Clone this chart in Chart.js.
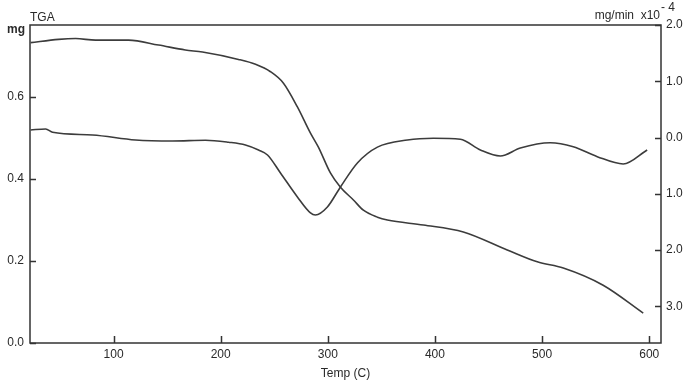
<!DOCTYPE html>
<html>
<head>
<meta charset="utf-8">
<script src="https://cdn.jsdelivr.net/npm/chart.js@4"></script>
<style>
  html, body { margin: 0; padding: 0; background: #fff; }
  #wrap { width: 694px; height: 381px; }
</style>
</head>
<body>
<div id="wrap"><canvas id="myChart" width="694" height="381"></canvas></div>
<script>
// weight curve (TGA, left axis, mg)
var tgaTemp = [22.6, 48.7, 64.6, 83.2, 114, 142, 167, 183, 216.6, 232.5, 246.5, 258.6, 271.6, 283.8, 291.2, 302.4, 311.8, 323.9, 333.2, 346.3, 355.6, 389.2, 426.5, 467.5, 495.5, 519.8, 557, 594.4];
var tgaMass = [0.733, 0.741, 0.743, 0.739, 0.739, 0.727, 0.715, 0.710, 0.692, 0.680, 0.662, 0.634, 0.576, 0.512, 0.478, 0.415, 0.380, 0.349, 0.324, 0.307, 0.300, 0.288, 0.271, 0.227, 0.198, 0.183, 0.141, 0.073];

// derivative curve (right axis, mg/min x10^-4)
var dtgTemp = [22.6, 36.6, 43.1, 80.4, 120.5, 155, 185.8, 207.3, 223.1, 235.3, 243.7, 255.8, 271.6, 283.8, 288.4, 299.6, 311.8, 327.6, 346.3, 374.3, 398.5, 423.7, 442.4, 461, 479.7, 507.6, 529.1, 551.5, 575.7, 598.1];
var dtgRate = [0.135, 0.153, 0.094, 0.046, -0.043, -0.060, -0.048, -0.083, -0.131, -0.220, -0.309, -0.629, -1.055, -1.339, -1.375, -1.233, -0.877, -0.451, -0.170, -0.043, -0.012, -0.030, -0.220, -0.327, -0.185, -0.091, -0.162, -0.339, -0.469, -0.220];

var xTicks = [100, 200, 300, 400, 500, 600];
var leftTicks = [0.0, 0.2, 0.4, 0.6];
var rightTicks = [2, 1, 0, -1, -2, -3];

function pts(xs, ys) {
    return xs.map(function (x, i) { return { x: x, y: ys[i] }; });
}

var lineColor = '#3c3c3c';
var textColor = '#2a2a2a';
var fam = 'Liberation Sans, Arial, sans-serif';
var font = { family: fam, size: 12 };

var frame = {
    id: 'frame',
    afterDraw: function (chart) {
        var c = chart.ctx, a = chart.chartArea;
        var sx = chart.scales.x, sy = chart.scales.y, sy1 = chart.scales.y1;
        c.save();
        c.strokeStyle = '#333';
        c.lineWidth = 1.5;
        c.strokeRect(a.left, a.top, a.right - a.left, a.bottom - a.top);
        c.beginPath();
        xTicks.forEach(function (v) {
            var px = Math.round(sx.getPixelForValue(v)) + 0.5;
            c.moveTo(px, a.bottom); c.lineTo(px, a.bottom - 7);
        });
        leftTicks.forEach(function (v) {
            var py = Math.round(sy.getPixelForValue(v)) + 0.5;
            c.moveTo(a.left, py); c.lineTo(a.left + 6, py);
        });
        rightTicks.forEach(function (v) {
            var py = Math.round(sy1.getPixelForValue(v)) + 0.5;
            c.moveTo(a.right, py); c.lineTo(a.right - 6, py);
        });
        c.stroke();

        c.fillStyle = textColor;
        c.textBaseline = 'alphabetic';
        c.textAlign = 'left';
        c.font = '12px ' + fam;
        c.fillText('TGA', 30, 21);
        c.font = 'bold 12px ' + fam;
        c.fillText('mg', 7, 33);
        c.font = '12px ' + fam;
        c.textAlign = 'right';
        c.fillText('mg/min  x10', 660, 19);
        c.textAlign = 'left';
        c.fillText('- 4', 661, 11);
        c.restore();
    }
};

var ctx = document.getElementById('myChart').getContext('2d');

var chart = new Chart(ctx, {
    type: 'line',
    data: {
        datasets: [{
            label: 'TGA',
            data: pts(tgaTemp, tgaMass),
            yAxisID: 'y',
            borderColor: lineColor,
            borderWidth: 1.6,
            pointRadius: 0,
            cubicInterpolationMode: 'monotone',
            fill: false
        }, {
            label: 'DTG',
            data: pts(dtgTemp, dtgRate),
            yAxisID: 'y1',
            borderColor: lineColor,
            borderWidth: 1.6,
            pointRadius: 0,
            cubicInterpolationMode: 'monotone',
            fill: false
        }]
    },
    options: {
        responsive: false,
        animation: false,
        layout: { padding: { top: 25, left: 0, right: 0, bottom: 0 } },
        plugins: {
            legend: { display: false },
            tooltip: { enabled: false }
        },
        scales: {
            x: {
                type: 'linear',
                min: 22,
                max: 611,
                afterBuildTicks: function (s) { s.ticks = xTicks.map(function (v) { return { value: v }; }); },
                afterFit: function (s) { s.height = 38; },
                grid: { display: false, drawTicks: false },
                border: { display: false },
                ticks: { color: textColor, font: font, padding: 4, maxRotation: 0 },
                title: {
                    display: true,
                    text: 'Temp (C)',
                    color: textColor,
                    font: { family: fam, size: 12 },
                    padding: { top: 0, bottom: 0 }
                }
            },
            y: {
                position: 'left',
                min: 0,
                max: 0.776,
                afterBuildTicks: function (s) { s.ticks = leftTicks.map(function (v) { return { value: v }; }); },
                afterFit: function (s) { s.width = 30; },
                grid: { display: false, drawTicks: false },
                border: { display: false },
                ticks: {
                    color: textColor, font: font, padding: 6,
                    callback: function (v) { return v.toFixed(1); }
                }
            },
            y1: {
                position: 'right',
                min: -3.65,
                max: 2.0,
                afterBuildTicks: function (s) { s.ticks = rightTicks.map(function (v) { return { value: v }; }); },
                afterFit: function (s) { s.width = 33; },
                grid: { display: false, drawTicks: false },
                border: { display: false },
                ticks: {
                    color: textColor, font: font, padding: 5,
                    callback: function (v) { return Math.abs(v).toFixed(1); }
                }
            }
        }
    },
    plugins: [frame]
});
</script>
</body>
</html>
